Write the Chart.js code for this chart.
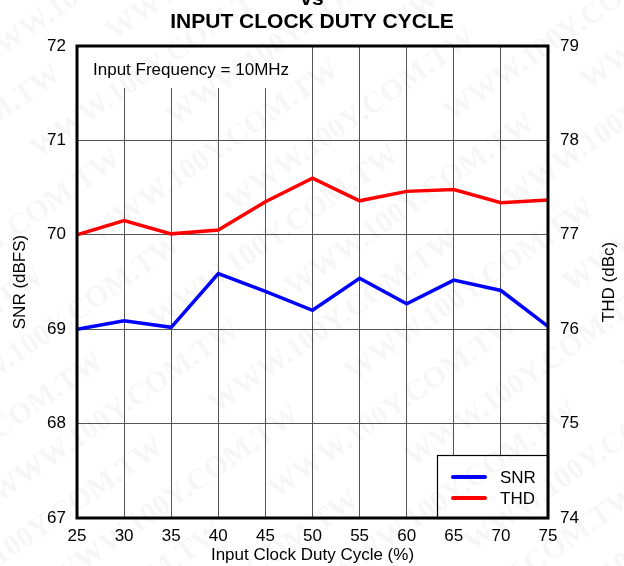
<!DOCTYPE html>
<html>
<head>
<meta charset="utf-8">
<script src="https://cdn.jsdelivr.net/npm/chart.js@4.4.0/dist/chart.umd.min.js"></script>
<style>
  html, body { margin: 0; padding: 0; background: #fff; }
</style>
</head>
<body>
<canvas id="dutyChart" width="624" height="566"></canvas>
<script>
// duty cycle sweep at 10MHz input
const dutyCycle = [25, 30, 35, 40, 45, 50, 55, 60, 65, 70, 75];
const snrValues = [69.00, 69.09, 69.02, 69.59, 69.40, 69.20, 69.54, 69.27, 69.52, 69.41, 69.03];
const thdValues = [77.00, 77.15, 77.01, 77.05, 77.35, 77.60, 77.36, 77.46, 77.48, 77.34, 77.37];

const snrTicks = [67, 72];
const thdTicks = [74, 79];
const xTicks = [25, 75];

const titleLines = ['vs', 'INPUT CLOCK DUTY CYCLE'];
const noteText = 'Input Frequency = 10MHz';
const thdAxisTitle = 'THD (dBc)';
const stampText = 'WWW.100Y.COM.TW';

const FONT = "'Liberation Sans', Arial, Helvetica, sans-serif";
Chart.defaults.font.family = FONT;
Chart.defaults.font.size = 17;
Chart.defaults.color = '#000';

const gridColor = '#555';

const decorations = {
    id: 'decorations',
    beforeDraw(chart) {
        const ctx = chart.ctx;
        ctx.save();
        ctx.fillStyle = '#fff';
        ctx.fillRect(0, 0, chart.width, chart.height);
        ctx.restore();
    },
    beforeDatasetsDraw(chart) {
        const { ctx, chartArea: a } = chart;
        ctx.save();

        // note box in the top-left corner hides the grid behind it
        ctx.fillStyle = '#fff';
        ctx.fillRect(a.left, a.top, 225, 42);
        ctx.fillStyle = '#000';
        ctx.font = '17px ' + FONT;
        ctx.textBaseline = 'alphabetic';
        ctx.fillText(noteText, a.left + 16, a.top + 29);

        // legend box in the bottom-right corner
        const w = 111, h = 63;
        const bx = a.right - w, by = a.bottom - h;
        ctx.fillStyle = '#fff';
        ctx.fillRect(bx, by, w, h);
        ctx.strokeStyle = '#000';
        ctx.lineWidth = 1.2;
        ctx.strokeRect(bx + 0.5, by + 0.5, w, h);
        chart.data.datasets.forEach((ds, i) => {
            const y = by + 22 + i * 21;
            ctx.strokeStyle = ds.borderColor;
            ctx.lineWidth = 4;
            ctx.lineCap = 'round';
            ctx.beginPath();
            ctx.moveTo(bx + 16, y);
            ctx.lineTo(bx + 48, y);
            ctx.stroke();
            ctx.fillStyle = '#000';
            ctx.font = '17px ' + FONT;
            ctx.textBaseline = 'middle';
            ctx.fillText(ds.label, bx + 63, y + 1);
        });
        ctx.restore();
    },
    afterDatasetsDraw(chart) {
        const { ctx, chartArea: a } = chart;
        ctx.save();
        ctx.strokeStyle = '#000';
        ctx.lineWidth = 3;
        ctx.strokeRect(a.left, a.top, a.right - a.left, a.bottom - a.top);
        ctx.restore();
    },
    afterDraw(chart) {
        const { ctx, chartArea: a } = chart;
        ctx.save();
        ctx.fillStyle = '#000';
        ctx.textAlign = 'center';
        ctx.textBaseline = 'alphabetic';
        ctx.font = 'bold 21px ' + FONT;
        ctx.fillText(titleLines[0], 312, 5);
        ctx.fillText(titleLines[1], 312, 28);

        // right axis title reads bottom to top
        ctx.font = '17px ' + FONT;
        ctx.textBaseline = 'middle';
        ctx.translate(609, (a.top + a.bottom) / 2);
        ctx.rotate(-Math.PI / 2);
        ctx.fillText(thdAxisTitle, 0, 0);
        ctx.restore();

        // faint diagonal stamp across the sheet
        ctx.save();
        ctx.fillStyle = 'rgba(0,0,0,0.035)';
        ctx.font = 'bold 30px "Liberation Serif", "DejaVu Serif", serif';
        ctx.textBaseline = 'middle';
        ctx.rotate(-35 * Math.PI / 180);
        for (let r = -4; r < 16; r++) {
            for (let c = -3; c < 4; c++) {
                const x = c * 360 + (r % 2) * 130 - 60;
                const y = r * 52 + 40;
                ctx.fillText(stampText, x, y);
            }
        }
        ctx.restore();
    }
};

new Chart(document.getElementById('dutyChart'), {
    type: 'line',
    data: {
        datasets: [
            {
                label: 'SNR',
                data: dutyCycle.map((d, i) => ({ x: d, y: snrValues[i] })),
                borderColor: '#0000FF',
                borderWidth: 3.5,
                pointRadius: 0,
                tension: 0,
                yAxisID: 'y'
            },
            {
                label: 'THD',
                data: dutyCycle.map((d, i) => ({ x: d, y: thdValues[i] })),
                borderColor: '#FF0000',
                borderWidth: 3.5,
                pointRadius: 0,
                tension: 0,
                yAxisID: 'y2'
            }
        ]
    },
    options: {
        responsive: false,
        animation: false,
        layout: { padding: { top: 46, left: 0, right: 0, bottom: 0 } },
        plugins: {
            legend: { display: false },
            tooltip: { enabled: false },
            title: { display: false }
        },
        scales: {
            x: {
                type: 'linear',
                position: 'bottom',
                min: xTicks[0],
                max: xTicks[1],
                grid: { color: gridColor, lineWidth: 1, drawTicks: false },
                border: { display: false },
                ticks: { stepSize: 5, padding: 8, maxRotation: 0, autoSkip: false },
                title: {
                    display: true,
                    text: 'Input Clock Duty Cycle (%)',
                    padding: { top: 0, bottom: 0 }
                },
                afterFit(scale) { scale.height = 48; }
            },
            y: {
                position: 'left',
                min: snrTicks[0],
                max: snrTicks[1],
                grid: { color: gridColor, lineWidth: 1, drawTicks: false },
                border: { display: false },
                ticks: { stepSize: 1, padding: 11 },
                title: {
                    display: true,
                    text: 'SNR (dBFS)',
                    padding: { top: 10, bottom: 0 }
                },
                afterFit(scale) { scale.width = 77; }
            },
            y2: {
                position: 'right',
                min: thdTicks[0],
                max: thdTicks[1],
                grid: { display: false, drawTicks: false },
                border: { display: false },
                ticks: { stepSize: 1, padding: 12 },
                afterFit(scale) { scale.width = 76; }
            }
        }
    },
    plugins: [decorations]
});
</script>
</body>
</html>
